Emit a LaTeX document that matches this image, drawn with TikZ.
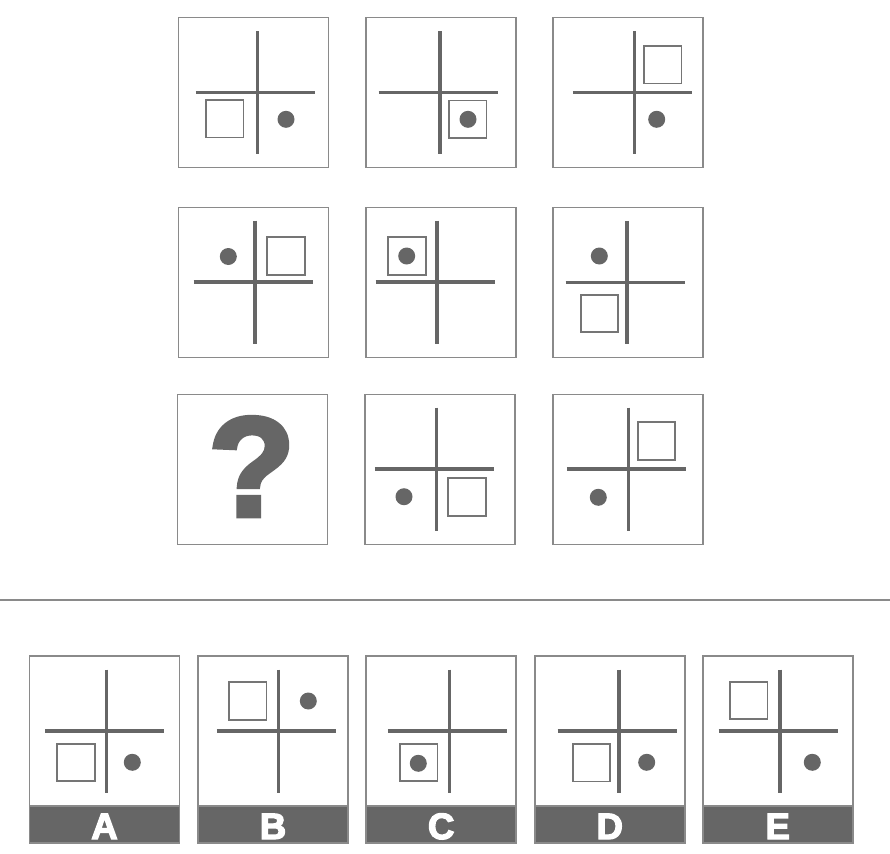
\documentclass[tikz,border=0pt]{standalone}
\usepackage{fontspec}
\newfontfamily\heavy{Liberation Sans}[UprightFont=* Bold, FakeBold=3.5]
\definecolor{ink}{HTML}{666666}
\definecolor{frame}{HTML}{8A8A8A}
\tikzset{
  x=0.75pt, y=-0.75pt,
  panel/.style={draw=frame, line width=1.2pt, minimum width=112.5pt, minimum height=112.5pt, inner sep=0pt, fill=white},
  ansbox/.style={draw=frame, line width=1.2pt, minimum width=112.5pt, minimum height=140.25pt, inner sep=0pt, fill=white},
  band/.style={fill=ink, draw=frame, line width=1.2pt},
  crossline/.style={draw=ink, line width=2.3pt},
  sqbox/.style={draw=frame!85!black, line width=1.3pt},
  dot/.style={fill=ink},
  letter/.style={text=white, font=\heavy\fontsize{27.5}{27.5}\selectfont, inner sep=0pt, anchor=base},
  sep/.style={draw=frame, line width=1.3pt}
}
\newcommand\motif[6]{%
  \draw[crossline] (#1-61.5,#2) -- (#1+57.5,#2);
  \draw[crossline] (#1,#2-61.5) -- (#1,#2+61.5);
  \draw[sqbox] (#3,#4) rectangle ++(37.5,37.5);
  \fill[dot] (#5,#6) circle (8.5);
}
\begin{document}
\begin{tikzpicture}
\useasboundingbox (0,0) rectangle (890,854);
% matrix panels
\node[panel] (p11) at (253.5,92.5) {};
\node[panel] (p12) at (441,92.5) {};
\node[panel] (p13) at (628,92.5) {};
\node[panel] (p21) at (253.5,282.5) {};
\node[panel] (p22) at (441,282.5) {};
\node[panel] (p23) at (628,282.5) {};
\node[panel] (p31) at (252.5,469.5) {};
\node[panel] (p32) at (440,469.5) {};
\node[panel] (p33) at (628,469.5) {};
\motif{257.3}{92.7}{206}{100}{286}{119.3}
\motif{440}{92.7}{449}{100.5}{468}{119.3}
\motif{634.3}{92.7}{644}{46}{656.7}{119.3}
\motif{255}{282}{267.3}{237.3}{228.3}{256.5}
\motif{437}{282}{388.3}{237.3}{406.7}{256}
\motif{627}{282.3}{580.7}{294.7}{599.3}{256}
\motif{436.3}{469}{448.3}{478.3}{404}{496.7}
\motif{628.3}{469}{637.7}{422.3}{598.3}{497.3}
\node[text=ink, font=\heavy\fontsize{106}{106}\selectfont, inner sep=0pt, anchor=base] (q) at (251.7,516) {?};
% separator
\draw[sep] (0,600) -- (890,600);
% answer boxes
\node[ansbox] (a) at (104.5,749.5) {};
\node[ansbox] (b) at (273,749.5) {};
\node[ansbox] (c) at (441.2,749.5) {};
\node[ansbox] (d) at (609.7,749.5) {};
\node[ansbox] (e) at (777.7,749.5) {};
\draw[band] (29.5,806) rectangle (179.5,843);
\draw[band] (198,806) rectangle (348,843);
\draw[band] (366.2,806) rectangle (516.2,843);
\draw[band] (534.7,806) rectangle (684.7,843);
\draw[band] (702.7,806) rectangle (852.7,843);
\motif{106.7}{731}{57.3}{743.7}{132.3}{762.3}
\motif{278.3}{731}{229}{682.3}{308.3}{701}
\motif{449.3}{731}{400}{743.7}{418.3}{763.3}
\motif{619}{731}{572.7}{744}{646.7}{762.3}
\motif{780}{731}{730}{681.7}{812.3}{762.3}
\node[letter] (la) at (104.5,839) {A};
\node[letter] (lb) at (273,839) {B};
\node[letter] (lc) at (441.2,839) {C};
\node[letter] (ld) at (609.7,839) {D};
\node[letter] (le) at (777.7,839) {E};
\end{tikzpicture}
\end{document}
